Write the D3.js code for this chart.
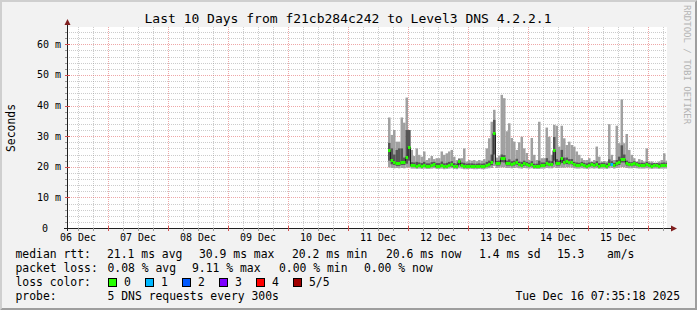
<!DOCTYPE html>
<html>
<head>
<meta charset="utf-8">
<script src="https://cdn.jsdelivr.net/npm/d3@7"></script>
<style>
  body { margin: 0; background: #f2f2f2; }
  svg text { font-family: 'DejaVu Sans Mono', monospace; fill: #000; }
</style>
</head>
<body>
<script>
// hourly slots, the first one starts 2025-12-11 16:00 UTC (values in ms)
const firstSlot = Date.UTC(2025, 11, 11, 16)

const rttMin = [
  19.8, 19.6, 19.5, 19.6, 19.5, 19.6, 19.5, 19.7, 19.8, 19.4,
  19.4, 19.3, 19.4, 19.3, 19.4, 19.3, 19.3, 19.4, 19.5, 19.3,
  19.3, 19.4, 19.2, 19.3, 19.4, 19.5, 19.3, 19.2, 19.5, 19.4,
  19.2, 19.2, 19.3, 19.3, 19.2, 19.2, 19.3, 19.2, 19.2, 19.4,
  19.5, 19.6, 20.2, 19.6, 19.7, 19.8, 19.8, 19.6, 19.6, 19.5,
  19.6, 19.7, 19.5, 19.4, 19.6, 19.5, 19.4, 19.5, 19.3, 19.3,
  19.3, 19.4, 19.4, 19.6, 19.5, 19.5, 19.8, 19.6, 19.6, 19.7,
  19.7, 19.8, 19.8, 19.7, 19.5, 19.4, 19.4, 19.5, 19.4, 19.3,
  19.4, 19.5, 19.4, 19.5, 19.3, 19.4, 19.4, 19.3, 19.5, 19.6,
  19.4, 19.6, 19.7, 19.9, 19.8, 19.6, 19.5, 19.5, 19.6, 19.5,
  19.4, 19.4, 19.4, 19.5, 19.4, 19.3, 19.4, 19.4, 19.3, 19.4,
  19.4, 19.4
]
const rttLow = [
  22.0, 20.8, 20.6, 20.3, 20.3, 20.6, 20.6, 21.0, 22.0, 20.0,
  20.0, 19.9, 20.0, 19.9, 20.0, 19.9, 19.8, 20.0, 20.1, 19.9,
  19.9, 20.0, 19.8, 19.9, 20.0, 20.1, 19.9, 19.8, 20.6, 20.0,
  19.8, 19.8, 19.8, 19.9, 19.8, 19.8, 19.9, 19.8, 19.8, 20.0,
  20.1, 20.5, 24.0, 20.4, 20.4, 21.5, 21.4, 20.4, 20.4, 20.2,
  20.4, 20.7, 20.2, 20.0, 20.4, 20.2, 20.0, 20.2, 19.8, 19.8,
  19.9, 20.0, 20.0, 20.4, 20.2, 20.2, 22.0, 20.4, 20.4, 21.2,
  20.8, 20.9, 20.8, 20.8, 20.2, 20.0, 20.0, 20.2, 20.0, 19.9,
  20.0, 20.2, 20.0, 20.2, 19.9, 20.0, 20.0, 19.9, 20.2, 20.3,
  20.0, 20.4, 20.6, 21.4, 21.4, 20.4, 20.2, 20.2, 20.4, 20.2,
  20.0, 20.0, 20.0, 20.2, 20.0, 19.9, 20.0, 20.0, 19.9, 20.0,
  20.0, 20.0
]
const rttMedian = [
  25.5, 22.2, 21.7, 21.1, 21.1, 21.7, 21.7, 23.3, 26.6, 20.6,
  20.6, 20.4, 20.6, 20.4, 20.6, 20.4, 20.3, 20.6, 20.8, 20.4,
  20.4, 20.6, 20.3, 20.4, 20.6, 20.8, 20.4, 20.3, 21.8, 20.6,
  20.3, 20.3, 20.3, 20.4, 20.3, 20.3, 20.4, 20.3, 20.3, 20.6,
  20.8, 21.7, 31.0, 21.1, 21.1, 23.0, 22.8, 21.1, 21.1, 20.8,
  21.1, 21.7, 20.8, 20.6, 21.1, 20.8, 20.6, 20.8, 20.3, 20.3,
  20.4, 20.6, 20.6, 21.1, 20.8, 20.8, 25.5, 21.1, 21.1, 22.9,
  21.7, 21.8, 21.6, 21.6, 20.8, 20.6, 20.6, 20.8, 20.6, 20.4,
  20.6, 20.8, 20.6, 20.8, 20.4, 20.6, 20.6, 20.4, 20.8, 21.0,
  20.6, 21.1, 21.4, 22.6, 22.6, 21.1, 20.8, 20.8, 21.1, 20.8,
  20.6, 20.6, 20.6, 20.8, 20.6, 20.4, 20.6, 20.6, 20.4, 20.6,
  20.6, 20.6
]
const rttHigh = [
  27.8, 26.0, 24.0, 25.5, 26.0, 26.0, 23.0, 32.0, 32.0, 21.5,
  21.4, 21.6, 21.4, 21.2, 21.6, 21.1, 21.1, 21.5, 21.6, 21.2,
  21.2, 21.7, 21.1, 21.3, 21.6, 21.8, 21.2, 21.0, 22.4, 21.4,
  21.3, 21.0, 21.1, 21.1, 21.0, 21.0, 21.1, 21.0, 21.1, 21.6,
  22.0, 24.0, 35.3, 21.9, 22.0, 24.0, 23.8, 22.0, 22.4, 21.8,
  22.0, 22.6, 21.7, 21.6, 22.0, 21.6, 21.3, 21.8, 21.0, 21.0,
  22.0, 21.4, 21.4, 22.8, 22.0, 21.8, 29.7, 22.5, 22.0, 25.5,
  23.0, 23.0, 22.5, 22.5, 21.6, 21.4, 21.3, 21.6, 21.3, 21.1,
  21.4, 21.5, 21.3, 21.8, 21.2, 21.3, 21.3, 21.1, 22.4, 21.8,
  21.3, 22.2, 23.3, 27.0, 24.0, 22.0, 21.6, 21.5, 21.8, 21.5,
  21.3, 21.3, 21.2, 21.6, 21.2, 21.1, 21.3, 21.3, 21.1, 21.3,
  21.4, 21.3
]
const rttMax = [
  36.1, 30.4, 32.0, 28.2, 28.2, 36.1, 34.4, 42.6, 32.0, 25.5,
  23.5, 26.0, 23.9, 23.3, 25.0, 22.2, 22.8, 23.5, 22.5, 22.8,
  22.8, 25.0, 23.9, 24.4, 25.0, 25.5, 23.3, 22.2, 22.8, 22.8,
  26.0, 21.7, 22.2, 22.0, 22.2, 21.8, 22.2, 22.0, 22.5, 26.0,
  29.3, 34.7, 38.6, 23.0, 23.5, 43.5, 42.4, 31.6, 34.2, 29.4,
  28.2, 25.5, 28.0, 29.8, 26.0, 24.5, 22.2, 29.4, 23.9, 22.2,
  34.7, 22.8, 22.8, 32.8, 29.8, 23.9, 33.7, 33.4, 26.6, 33.4,
  29.3, 27.1, 28.2, 27.1, 26.6, 25.0, 23.9, 22.8, 22.2, 22.2,
  22.8, 21.7, 22.2, 26.6, 23.3, 21.7, 21.9, 21.7, 33.9, 23.9,
  22.2, 33.4, 27.7, 42.0, 27.7, 30.7, 25.5, 23.9, 22.8, 21.7,
  22.5, 22.2, 21.7, 26.0, 21.7, 21.7, 21.1, 21.1, 21.7, 22.2,
  24.4, 22.0
]
// slots where some pings were lost (loss level out of 5)
const lossSlots = [89]
const lossLevels = [1]

const yTicks = [0, 10, 20, 30, 40, 50, 60]
const yTickLabels = ['0', '10 m', '20 m', '30 m', '40 m', '50 m', '60 m']
const dayLabels = ['06 Dec', '07 Dec', '08 Dec', '09 Dec', '10 Dec', '11 Dec', '12 Dec', '13 Dec', '14 Dec', '15 Dec']

const rttStats = ['21.1 ms avg', '30.9 ms max', '20.2 ms min', '20.6 ms now', '1.4 ms sd', '15.3', 'am/s']
const lossStats = ['0.08 % avg', '9.11 % max', '0.00 % min', '0.00 % now']
const lossNames = ['0', '1', '2', '3', '4', '5/5']

// layout
const frame = { width: 697, height: 310, left: 67, right: 667, top: 27, bottom: 228 }
const lossColors = ['#26ff00', '#00b8ff', '#0059ff', '#7e00ff', '#ff0000', '#a00000']
const crisp = v => Math.round(v) + 0.5

const svg = d3.select('body').append('svg')
  .attr('width', frame.width)
  .attr('height', frame.height)

// background + 3d border
svg.append('rect').attr('width', frame.width).attr('height', frame.height).attr('fill', '#f2f2f2')
svg.append('path').attr('fill', '#cfcfcf')
  .attr('d', `M0,0H${frame.width}L${frame.width - 2},2H2V${frame.height - 2}L0,${frame.height}Z`)
svg.append('path').attr('fill', '#9e9e9e')
  .attr('d', `M${frame.width},0V${frame.height}H0L2,${frame.height - 2}H${frame.width - 2}V2Z`)

svg.append('rect')
  .attr('x', frame.left).attr('y', frame.top)
  .attr('width', frame.right - frame.left).attr('height', frame.bottom - frame.top)
  .attr('fill', '#fff')

const start = new Date(Date.UTC(2025, 11, 6, 7, 35, 18))
const end = new Date(Date.UTC(2025, 11, 16, 7, 35, 18))
const x = d3.scaleUtc().domain([start, end]).range([frame.left, frame.right])
const y = d3.scaleLinear().domain([0, 65.65]).range([frame.bottom, frame.top])

// grid
const grid = svg.append('g').attr('stroke-dasharray', '1,1').attr('stroke-width', 1)
const minorT = d3.utcHour.every(6).range(start, end).filter(d => d.getUTCHours() !== 0)
const majorT = d3.utcDay.range(start, end)
const minorV = d3.range(2, 66, 2).filter(v => v % 10 !== 0)
const majorV = yTicks.filter(v => v > 0)

grid.selectAll('.vmin').data(minorT).join('line')
  .attr('x1', d => crisp(x(d))).attr('x2', d => crisp(x(d)))
  .attr('y1', frame.top).attr('y2', frame.bottom)
  .attr('stroke', 'rgba(143,143,143,0.45)')
grid.selectAll('.hmin').data(minorV).join('line')
  .attr('x1', frame.left).attr('x2', frame.right)
  .attr('y1', d => crisp(y(d))).attr('y2', d => crisp(y(d)))
  .attr('stroke', 'rgba(143,143,143,0.45)')
grid.selectAll('.vmaj').data(majorT).join('line')
  .attr('x1', d => crisp(x(d))).attr('x2', d => crisp(x(d)))
  .attr('y1', frame.top).attr('y2', frame.bottom)
  .attr('stroke', 'rgba(222,79,79,0.5)')
grid.selectAll('.hmaj').data(majorV).join('line')
  .attr('x1', frame.left).attr('x2', frame.right)
  .attr('y1', d => crisp(y(d))).attr('y2', d => crisp(y(d)))
  .attr('stroke', 'rgba(222,79,79,0.5)')

// smoke + median
const hour = 3600e3
const slots = rttMedian.map((m, i) => {
  const li = lossSlots.indexOf(i)
  return {
    t0: new Date(firstSlot + i * hour),
    t1: new Date(Math.min(firstSlot + (i + 1) * hour, +end)),
    min: rttMin[i], low: rttLow[i], med: m, high: rttHigh[i], max: rttMax[i],
    loss: li < 0 ? 0 : lossLevels[li]
  }
})
const slotW = d => x(d.t1) - x(d.t0)

svg.append('g').selectAll('rect').data(slots).join('rect')
  .attr('x', d => x(d.t0)).attr('width', slotW)
  .attr('y', d => y(d.max)).attr('height', d => y(d.min) - y(d.max))
  .attr('fill', '#a0a0a0')
svg.append('g').selectAll('rect').data(slots).join('rect')
  .attr('x', d => x(d.t0)).attr('width', slotW)
  .attr('y', d => y(d.high)).attr('height', d => y(d.low) - y(d.high))
  .attr('fill', '#555')

const medLine = d3.line().curve(d3.curveStepAfter).x(d => x(d.t0)).y(d => crisp(y(d.med)))
svg.append('path')
  .datum(slots.concat([{ t0: slots[slots.length - 1].t1, med: slots[slots.length - 1].med }]))
  .attr('d', medLine).attr('fill', 'none').attr('stroke', '#202020').attr('stroke-width', 1)
svg.append('g').selectAll('rect').data(slots).join('rect')
  .attr('x', d => x(d.t0)).attr('width', slotW)
  .attr('y', d => Math.round(y(d.med)) - 1).attr('height', 3)
  .attr('fill', d => lossColors[d.loss])

// axes
const axisCol = '#1f1f1f'
const arrowCol = '#801f1f'
svg.append('line').attr('x1', frame.left - 3).attr('x2', frame.right + 5)
  .attr('y1', frame.bottom + 0.5).attr('y2', frame.bottom + 0.5).attr('stroke', axisCol)
svg.append('line').attr('x1', frame.left + 0.5).attr('x2', frame.left + 0.5)
  .attr('y1', frame.bottom + 3).attr('y2', frame.top - 3).attr('stroke', axisCol)
svg.append('path').attr('fill', arrowCol)
  .attr('d', `M${frame.left + 0.5},${frame.top - 8}L${frame.left + 3.5},${frame.top - 2}L${frame.left - 2.5},${frame.top - 2}Z`)
svg.append('path').attr('fill', arrowCol)
  .attr('d', `M${frame.right + 10},${frame.bottom + 0.5}L${frame.right + 4},${frame.bottom - 2.5}L${frame.right + 4},${frame.bottom + 3.5}Z`)

// small ticks on the axes
svg.append('g').selectAll('line').data(minorT).join('line')
  .attr('x1', d => crisp(x(d))).attr('x2', d => crisp(x(d)))
  .attr('y1', frame.bottom).attr('y2', frame.bottom + 3).attr('stroke', '#9a9a9a')
svg.append('g').selectAll('line').data(majorT).join('line')
  .attr('x1', d => crisp(x(d))).attr('x2', d => crisp(x(d)))
  .attr('y1', frame.bottom - 2).attr('y2', frame.bottom + 3).attr('stroke', '#d05050')
svg.append('g').selectAll('line').data(minorV).join('line')
  .attr('x1', frame.left - 2).attr('x2', frame.left)
  .attr('y1', d => crisp(y(d))).attr('y2', d => crisp(y(d))).attr('stroke', '#9a9a9a')
svg.append('g').selectAll('line').data(majorV).join('line')
  .attr('x1', frame.left - 2).attr('x2', frame.left + 3)
  .attr('y1', d => crisp(y(d))).attr('y2', d => crisp(y(d))).attr('stroke', '#d05050')

// tick labels
svg.append('g').selectAll('text').data(yTicks).join('text')
  .attr('x', d => d === 0 ? 48 : 61)
  .attr('y', d => y(d) + 3.5)
  .attr('text-anchor', 'end')
  .style('font-size', '10px')
  .text((d, i) => yTickLabels[i])

svg.append('g').selectAll('text').data(dayLabels).join('text')
  .attr('x', (d, i) => x(new Date(Date.UTC(2025, 11, 6 + i, 12))))
  .attr('y', 241)
  .attr('text-anchor', 'middle')
  .style('font-size', '10px')
  .text(d => d)

// title, axis label, watermark
svg.append('text').attr('x', 348).attr('y', 23).attr('text-anchor', 'middle')
  .style('font-size', '13px')
  .text('Last 10 Days from f21cb284c242 to Level3 DNS 4.2.2.1')
svg.append('text').attr('transform', 'translate(15,128) rotate(-90)').attr('text-anchor', 'middle')
  .style('font-size', '11.4px')
  .text('Seconds')
svg.append('text').attr('transform', 'translate(684,5) rotate(90)')
  .style('font-size', '9px').style('fill', '#b4b4b4')
  .text('RRDTOOL / TOBI OETIKER')

// legend
const legend = svg.append('g').style('font-size', '11.4px')
const rttX = [107, 199, 292, 386, 479, 557, 607]
const lossX = [107.5, 192, 279, 364]
legend.append('text').attr('x', 15.5).attr('y', 258).text('median rtt:')
legend.selectAll('.rs').data(rttStats).join('text').attr('class', 'rs')
  .attr('x', (d, i) => rttX[i]).attr('y', 258).text(d => d)
legend.append('text').attr('x', 15.5).attr('y', 272).text('packet loss:')
legend.selectAll('.ls').data(lossStats).join('text').attr('class', 'ls')
  .attr('x', (d, i) => lossX[i]).attr('y', 272).text(d => d)
legend.append('text').attr('x', 15.5).attr('y', 286).text('loss color:')
const lc = legend.selectAll('.lc').data(lossNames).join('g').attr('class', 'lc')
  .attr('transform', (d, i) => `translate(${108 + i * 37},0)`)
lc.append('rect').attr('x', 0.5).attr('y', 278.5).attr('width', 8).attr('height', 8)
  .attr('fill', (d, i) => lossColors[i]).attr('stroke', '#000')
lc.append('text').attr('x', 16).attr('y', 286).text(d => d)
legend.append('text').attr('x', 15.5).attr('y', 300).text('probe:')
legend.append('text').attr('x', 107.5).attr('y', 300).text('5 DNS requests every 300s')
legend.append('text').attr('x', 680).attr('y', 300).attr('text-anchor', 'end').text('Tue Dec 16 07:35:18 2025')
</script>
</body>
</html>
